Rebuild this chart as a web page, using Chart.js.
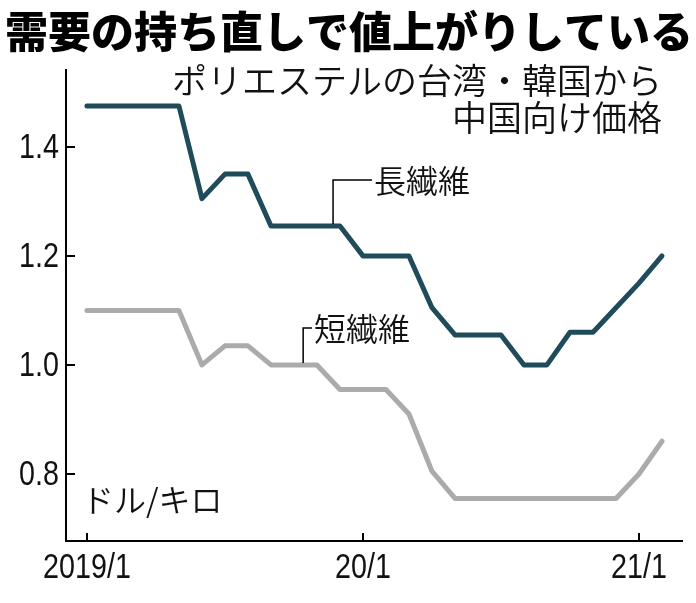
<!DOCTYPE html>
<html lang="ja">
<head>
<meta charset="utf-8">
<title>ポリエステルの台湾・韓国から中国向け価格</title>
<script src="https://cdn.jsdelivr.net/npm/chart.js@4.4.1/dist/chart.umd.min.js"></script>
<style>
  html, body { margin: 0; padding: 0; background: #fff; }
  #wrap { position: relative; width: 696px; height: 603px; }
</style>
</head>
<body>
<div id="wrap"><canvas id="myChart" width="696" height="603"></canvas></div>
<script>
// months from 2019/1 to 2021/2 (x = index)
const months = [
  "2019/1", "2019/2", "2019/3", "2019/4", "2019/5", "2019/6", "2019/7",
  "2019/8", "2019/9", "2019/10", "2019/11", "2019/12",
  "2020/1", "2020/2", "2020/3", "2020/4", "2020/5", "2020/6", "2020/7",
  "2020/8", "2020/9", "2020/10", "2020/11", "2020/12",
  "2021/1", "2021/2",
];

// ドル/キロ
const longFiber = [
  1.475, 1.475, 1.475, 1.475, 1.475, 1.305, 1.35, 1.35, 1.255, 1.255,
  1.255, 1.255, 1.2, 1.2, 1.2, 1.105, 1.055, 1.055, 1.055, 1.0,
  1.0, 1.06, 1.06, 1.105, 1.15, 1.2,
];
const shortFiber = [
  1.1, 1.1, 1.1, 1.1, 1.1, 1.0, 1.035, 1.035, 1.0, 1.0,
  1.0, 0.955, 0.955, 0.955, 0.91, 0.805, 0.755, 0.755, 0.755, 0.755,
  0.755, 0.755, 0.755, 0.755, 0.8, 0.86,
];

const xTickMonths = ["2019/1", "2020/1", "2021/1"];
const xTickLabels = ["2019/1", "20/1", "21/1"];
const yTicks = [0.8, 1.0, 1.2, 1.4];

const titleText = "需要の持ち直しで値上がりしている";
const subtitleLines = ["ポリエステルの台湾・韓国から", "中国向け価格"];
const unitText = "ドル/キロ";
const seriesNames = ["長繊維", "短繊維"];

const JP = '"Noto Sans CJK JP", "Noto Sans", sans-serif';
const NUM = '"Liberation Sans", Arial, sans-serif';
const NARROW = 0.82; // the digits in the original are condensed

const toPoints = (values) => values.map((v, i) => ({ x: i, y: v }));

const xTickValues = xTickMonths.map((m) => months.indexOf(m));

// squeezed text for the tick labels
const narrowText = (ctx, text, x, y) => {
  ctx.save();
  ctx.translate(x, y);
  ctx.scale(NARROW, 1);
  ctx.fillText(text, 0, 0);
  ctx.restore();
};

// inward tick marks, tick labels, leader lines and all the text
const decorations = {
  id: "decorations",
  afterDraw(chart) {
    const ctx = chart.ctx;
    const x = chart.scales.x;
    const y = chart.scales.y;
    const area = chart.chartArea;

    ctx.save();
    ctx.strokeStyle = "#000";
    ctx.fillStyle = "#111";
    ctx.lineWidth = 2;
    ctx.font = "35px " + NUM;
    ctx.textBaseline = "middle";

    ctx.textAlign = "center";
    xTickValues.forEach((v, i) => {
      const px = Math.round(x.getPixelForValue(v));
      ctx.beginPath();
      ctx.moveTo(px, area.bottom);
      ctx.lineTo(px, area.bottom - 8);
      ctx.stroke();
      narrowText(ctx, xTickLabels[i], px, area.bottom + 27);
    });

    ctx.textAlign = "right";
    yTicks.forEach((v) => {
      const py = Math.round(y.getPixelForValue(v));
      ctx.beginPath();
      ctx.moveTo(area.left, py);
      ctx.lineTo(area.left + 9, py);
      ctx.stroke();
      narrowText(ctx, v.toFixed(1), area.left - 7, py + 1);
    });

    // leader lines
    ctx.lineWidth = 1.5;
    const longX = x.getPixelForValue(10.7);
    const longY = y.getPixelForValue(longFiber[10]);
    ctx.beginPath();
    ctx.moveTo(longX, longY - 2);
    ctx.lineTo(longX, 180);
    ctx.lineTo(372, 180);
    ctx.stroke();

    const shortX = x.getPixelForValue(9.4);
    const shortY = y.getPixelForValue(shortFiber[9]);
    ctx.beginPath();
    ctx.moveTo(shortX, shortY - 2);
    ctx.lineTo(shortX, 328);
    ctx.lineTo(312, 328);
    ctx.stroke();

    ctx.textAlign = "left";
    ctx.font = "350 32px " + JP;
    ctx.fillText(seriesNames[0], 374, 181);
    ctx.fillText(seriesNames[1], 314, 329);
    ctx.fillText(unitText, 82, 500);

    ctx.font = "900 43px " + JP;
    ctx.fillStyle = "#000";
    ctx.fillText(titleText, 5, 32);

    ctx.fillStyle = "#111";
    ctx.textAlign = "right";
    ctx.font = "350 35px " + JP;
    ctx.fillText(subtitleLines[0], 662, 81);
    ctx.fillText(subtitleLines[1], 662, 118);
    ctx.restore();
  },
};

const ctx = document.getElementById("myChart").getContext("2d");
const chartInstance = new Chart(ctx, {
  type: "line",
  data: {
    datasets: [
      {
        label: seriesNames[0],
        data: toPoints(longFiber),
        borderColor: "#1f4b5a",
        borderWidth: 5,
        borderCapStyle: "round",
        borderJoinStyle: "round",
        pointRadius: 0,
        tension: 0,
        clip: false,
      },
      {
        label: seriesNames[1],
        data: toPoints(shortFiber),
        borderColor: "#ababab",
        borderWidth: 5,
        borderCapStyle: "round",
        borderJoinStyle: "round",
        pointRadius: 0,
        tension: 0,
        clip: false,
      },
    ],
  },
  options: {
    responsive: false,
    animation: false,
    devicePixelRatio: 1,
    layout: { padding: { top: 70, right: 14, left: 0, bottom: 0 } },
    plugins: {
      legend: { display: false },
      tooltip: { enabled: false },
    },
    scales: {
      x: {
        type: "linear",
        min: -0.91,
        max: 25.87,
        afterBuildTicks: (scale) => {
          scale.ticks = xTickValues.map((v) => ({ value: v }));
        },
        afterFit: (scale) => {
          scale.height = 62;
        },
        grid: { display: false },
        border: { display: true, color: "#000", width: 2 },
        ticks: { display: false },
      },
      y: {
        type: "linear",
        min: 0.677,
        max: 1.541,
        afterBuildTicks: (scale) => {
          scale.ticks = yTicks.map((v) => ({ value: v }));
        },
        afterFit: (scale) => {
          scale.width = 66;
        },
        grid: { display: false },
        border: { display: true, color: "#000", width: 2 },
        ticks: { display: false },
      },
    },
  },
  plugins: [decorations],
});
</script>
</body>
</html>
